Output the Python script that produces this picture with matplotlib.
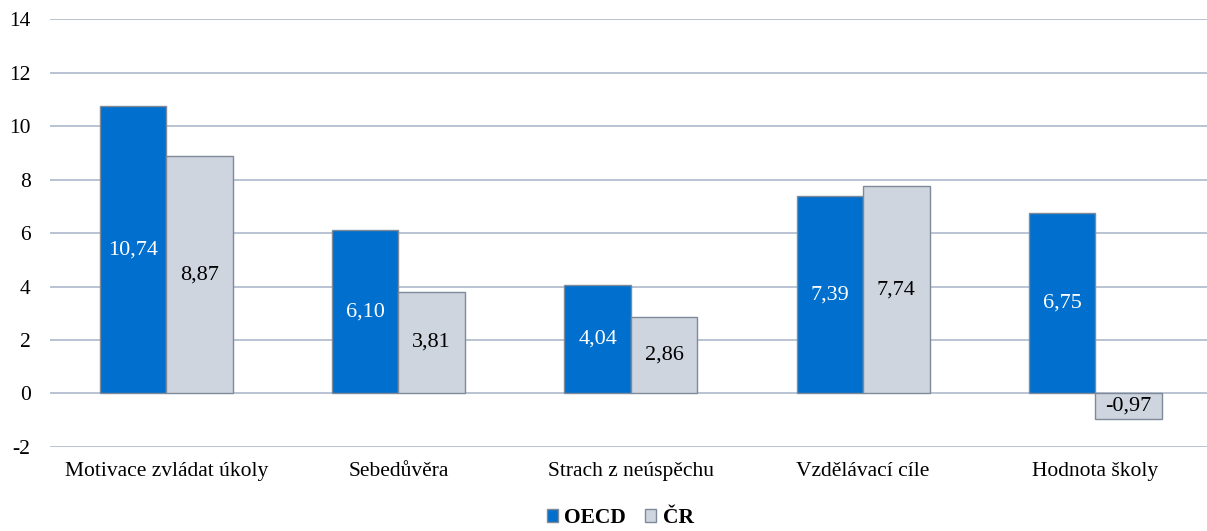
import matplotlib.pyplot as plt
import numpy as np
from matplotlib.patches import Patch

categories = ["Motivace zvládat úkoly", "Sebedůvěra", "Strach z neúspěchu", "Vzdělávací cíle", "Hodnota školy"]
oecd = [10.74, 6.10, 4.04, 7.39, 6.75]
cr = [8.87, 3.81, 2.86, 7.74, -0.97]
yticks = [-2, 0, 2, 4, 6, 8, 10, 12, 14]

plt.rcParams['font.family'] = ['Liberation Serif', 'DejaVu Serif']

blue = "#006FCD"
grey = "#CFD5DF"
edge = "#7F8A99"

fig = plt.figure(figsize=(12.07, 5.31), dpi=100)
ax = fig.add_axes([0.0414, 0.1582, 0.9586, 0.806])

x = np.arange(len(categories))
w = 0.286
ax.bar(x - w / 2, oecd, w, color=blue, edgecolor=edge, linewidth=1, zorder=3)
ax.bar(x + w / 2, cr, w, color=grey, edgecolor=edge, linewidth=1, zorder=3)

for xi, v in zip(x, oecd):
    ax.text(xi - w / 2, v / 2, f"{v:.2f}".replace(".", ","), ha="center", va="center",
            color="white", fontsize=16, zorder=4)
for xi, v in zip(x, cr):
    ax.text(xi + w / 2, v / 2, f"{v:.2f}".replace(".", ","), ha="center", va="center",
            color="black", fontsize=16, zorder=4)

ax.set_ylim(-2, 14)
ax.set_yticks(yticks)
ax.set_yticklabels([str(t) for t in yticks], fontsize=15.5)
ax.set_xlim(-0.5, 4.48)
ax.set_xticks(x)
ax.set_xticklabels(categories, fontsize=15.5)
ax.grid(axis="y", color="#AEB9CC", linewidth=1.2, zorder=0)
for s in ax.spines.values():
    s.set_visible(False)
ax.tick_params(axis="x", length=0, pad=11)
ax.tick_params(axis="y", length=0, pad=14)

handles = [Patch(facecolor=blue, edgecolor=edge, label="OECD"),
           Patch(facecolor=grey, edgecolor=edge, label="ČR")]
fig.legend(handles=handles, loc="center", bbox_to_anchor=(0.514, 0.024), ncol=2, frameon=False,
           prop={"weight": "bold", "size": 15.5}, handlelength=0.5, handleheight=0.5,
           handletextpad=0.3, columnspacing=0.9)

fig.savefig("out.png", dpi=100)
